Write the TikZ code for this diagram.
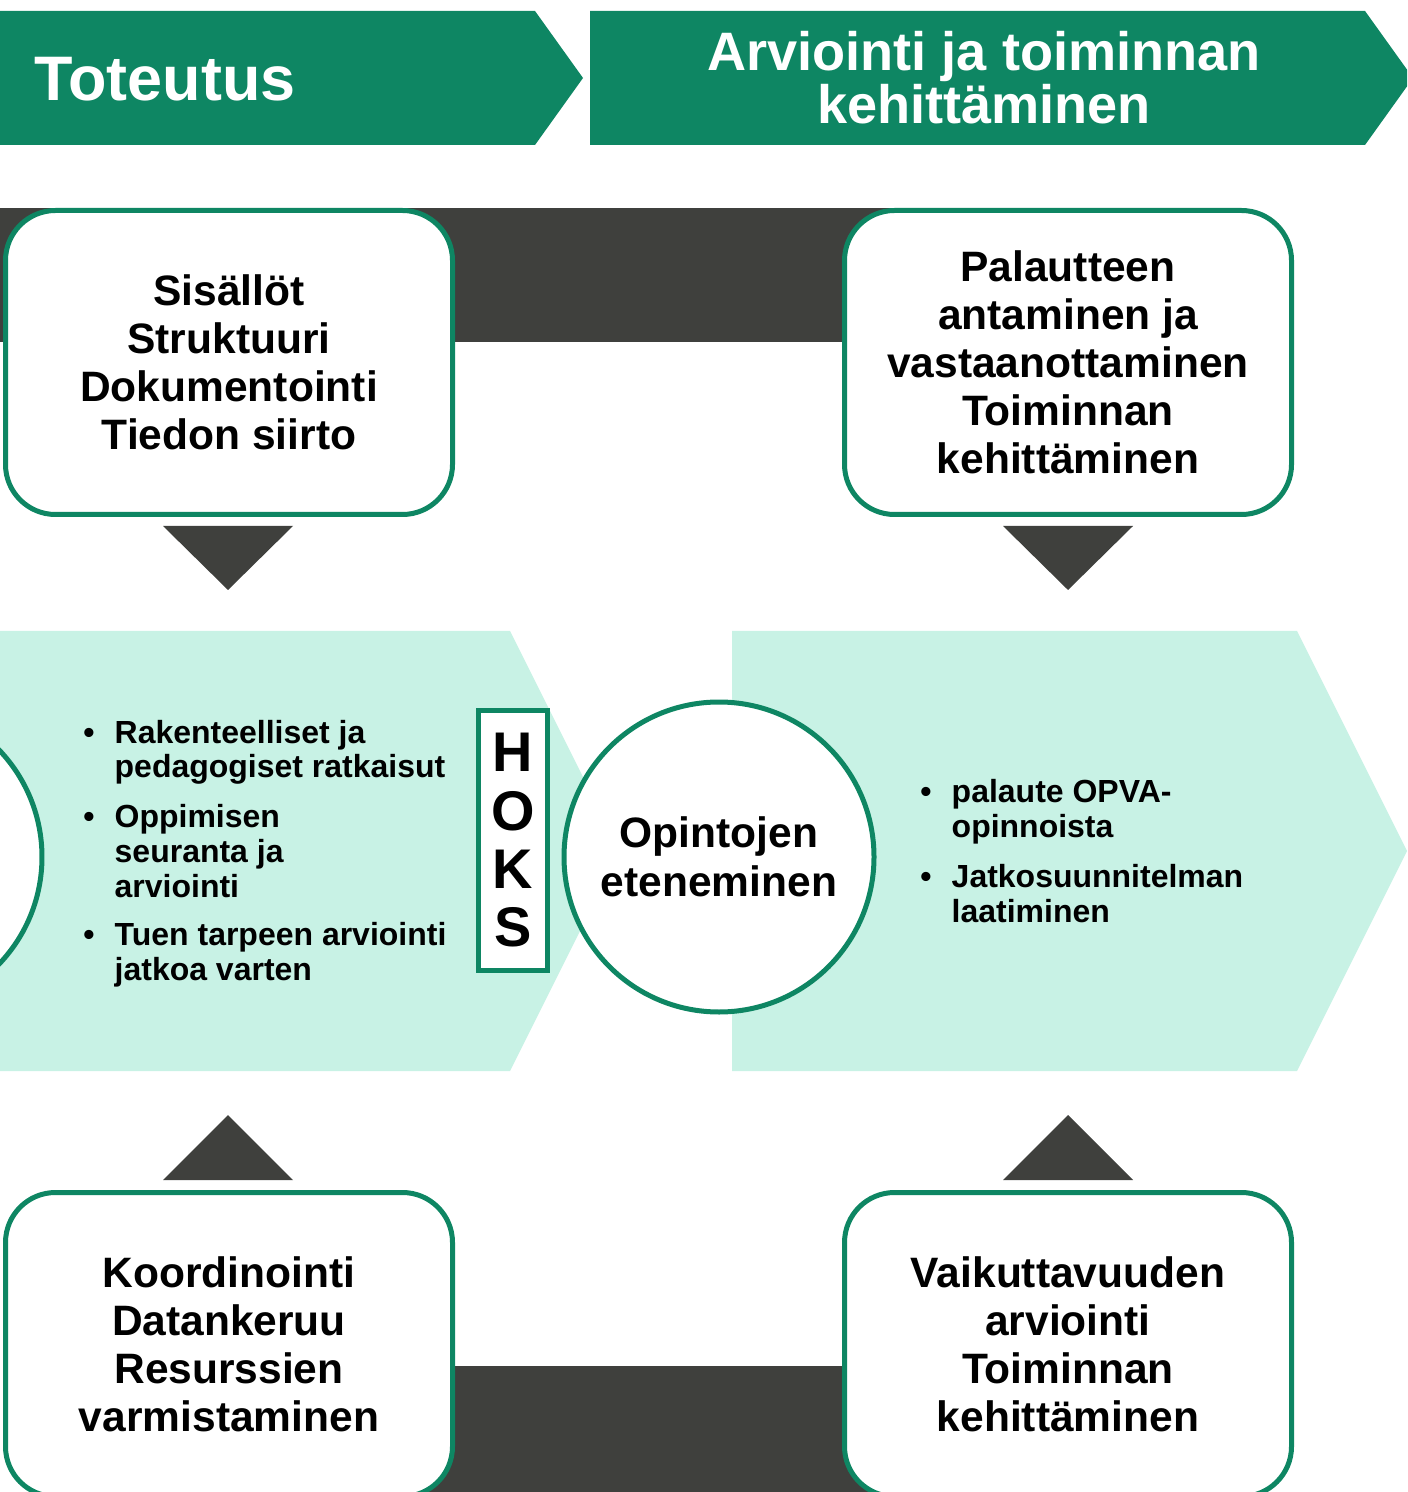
\documentclass[tikz,border=0pt]{standalone}
\usepackage{fontspec}
\setmainfont{Liberation Sans}
\usetikzlibrary{positioning}
\definecolor{hoksgreen}{RGB}{14,134,99}
\definecolor{bandgrey}{RGB}{63,64,61}
\definecolor{mint}{RGB}{200,242,229}

\begin{document}
\begin{tikzpicture}[x=0.1mm,y=-0.1mm,
    box/.style={draw=hoksgreen,line width=0.5mm,fill=white,rounded corners=5mm,
        minimum width=44.7mm,minimum height=30.4mm,inner sep=0pt,align=center,
        font=\bfseries\fontsize{12.1}{13.66}\selectfont},
    ring/.style={circle,draw=hoksgreen,line width=0.5mm,fill=white,
        minimum size=31mm,inner sep=0pt,align=center,
        font=\bfseries\fontsize{12.1}{13.9}\selectfont},
    item/.style={anchor=base west,inner sep=0pt,font=\bfseries\fontsize{9.1}{10}\selectfont},
    dot/.style={anchor=base,inner sep=0pt,font=\bfseries\fontsize{9.1}{10}\selectfont}]

    \useasboundingbox (0,0) rectangle (1407,1492);
    \clip (0,0) rectangle (1407,1492);

    % otsikot
    \fill[hoksgreen] (0,11) -- (535,11) -- (583,78) -- (535,145) -- (0,145) -- cycle;
    \fill[hoksgreen] (590,11) -- (1365,11) -- (1413,78) -- (1365,145) -- (590,145) -- cycle;
    \node[anchor=base west,inner sep=0pt,text=white,font=\bfseries\fontsize{17.9}{18}\selectfont]
        (toteutus) at (34,101) {Toteutus};
    \node[inner sep=0pt,text=white,align=center,font=\bfseries\fontsize{15.4}{15.1}\selectfont]
        (arviointi) at (984,78) {Arviointi ja toiminnan\\kehittäminen};

    % tummat palkit
    \fill[bandgrey] (0,208) rectangle (900,342);
    \fill[bandgrey] (228,1366) rectangle (1068,1500);

    % vaaleat nuolet
    \fill[mint] (0,631) -- (510,631) -- (620,851) -- (510,1071) -- (0,1071) -- cycle;
    \fill[mint] (732,631) -- (1297,631) -- (1407,851) -- (1297,1071) -- (732,1071) -- cycle;

    % kolmiot
    \fill[bandgrey] (163,526) -- (293,526) -- (228,590) -- cycle;
    \fill[bandgrey] (1003,526) -- (1133,526) -- (1068,590) -- cycle;
    \fill[bandgrey] (163,1180) -- (293,1180) -- (228,1115) -- cycle;
    \fill[bandgrey] (1003,1180) -- (1133,1180) -- (1068,1115) -- cycle;

    % laatikot
    \node[box] (sisallot) at (229,362.5)
        {Sisällöt\\Struktuuri\\Dokumentointi\\Tiedon siirto};
    \node[box] (palaute) at (1068,362.5)
        {Palautteen\\antaminen ja\\vastaanottaminen\\Toiminnan\\kehittäminen};
    \node[box] (koordinointi) at (229,1344.5)
        {Koordinointi\\Datankeruu\\Resurssien\\varmistaminen};
    \node[box] (vaikuttavuus) at (1068,1344.5)
        {Vaikuttavuuden\\arviointi\\Toiminnan\\kehittäminen};

    % ympyrat
    \node[ring] (edellinen) at (-113,857) {};
    \node[ring] (opinnot) at (719,857) {Opintojen\\eteneminen};

    % HOKS
    \node[draw=hoksgreen,line width=0.5mm,fill=white,minimum width=6.9mm,minimum height=26mm,
        inner sep=0pt,align=center,font=\bfseries\fontsize{15.9}{16.6}\selectfont]
        (hoks) at (513,840.5) {H\\O\\K\\S};

    % vasen lista
    \node[dot] (d1) at (89,743) {•};
    \node[item] (l1a) at (114,743) {Rakenteelliset ja};
    \node[item] (l1b) at (114,777) {pedagogiset ratkaisut};
    \node[dot] (d2) at (89,827) {•};
    \node[item] (l2a) at (114,827) {Oppimisen};
    \node[item] (l2b) at (114,862) {seuranta ja};
    \node[item] (l2c) at (114,897) {arviointi};
    \node[dot] (d3) at (89,945) {•};
    \node[item] (l3a) at (114,945) {Tuen tarpeen arviointi};
    \node[item] (l3b) at (114,980) {jatkoa varten};

    % oikea lista
    \node[dot] (d4) at (926,802) {•};
    \node[item] (r1a) at (951,802) {palaute OPVA-};
    \node[item] (r1b) at (951,837) {opinnoista};
    \node[dot] (d5) at (926,887) {•};
    \node[item] (r2a) at (951,887) {Jatkosuunnitelman};
    \node[item] (r2b) at (951,922) {laatiminen};

\end{tikzpicture}
\end{document}
